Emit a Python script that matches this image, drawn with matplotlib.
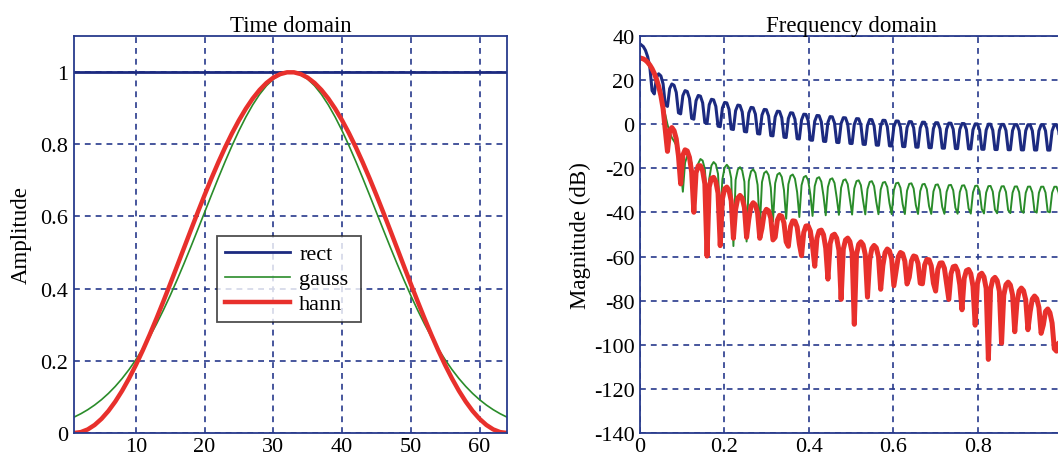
import numpy as np
import matplotlib
matplotlib.use("Agg")
import matplotlib.pyplot as plt

# ---- data: window samples (first half; windows are symmetric) ----
sample_index = list(range(1, 65))
rect_half = [1.0] * 32
gauss_half = [0.0439369, 0.0534111, 0.0645205, 0.0774512, 0.0923897, 0.1095174,
              0.1290052, 0.1510065, 0.1756502, 0.2030328, 0.2332105, 0.2661917,
              0.3019293, 0.3403146, 0.3811714, 0.4242526, 0.4692380, 0.5157346,
              0.5632794, 0.6113443, 0.6593444, 0.7066483, 0.7525905, 0.7964868,
              0.8376506, 0.8754104, 0.9091278, 0.9382156, 0.9621545, 0.9805087,
              0.9929389, 0.9992130]
hann_half = [0.0000000, 0.0024846, 0.0099138, 0.0222136, 0.0392619, 0.0608892,
             0.0868806, 0.1169778, 0.1508816, 0.1882551, 0.2287269, 0.2718947,
             0.3173295, 0.3645798, 0.4131759, 0.4626350, 0.5124653, 0.5621719,
             0.6112605, 0.6592433, 0.7056436, 0.7500000, 0.7918718, 0.8308429,
             0.8665259, 0.8985663, 0.9266454, 0.9504844, 0.9698463, 0.9845386,
             0.9944154, 0.9993785]
labels = ["rect", "gauss", "hann"]
time_yticks = [0, 0.2, 0.4, 0.6, 0.8, 1]
time_ytick_labels = ["0", "0.2", "0.4", "0.6", "0.8", "1"]
time_xticks = [10, 20, 30, 40, 50, 60]
freq_xticks = [0, 0.2, 0.4, 0.6, 0.8]
freq_xtick_labels = ["0", "0.2", "0.4", "0.6", "0.8"]
freq_yticks = [40, 20, 0, -20, -40, -60, -80, -100, -120, -140]

rect = np.array(rect_half + rect_half[::-1])
gauss = np.array(gauss_half + gauss_half[::-1])
hann = np.array(hann_half + hann_half[::-1])
windows = [rect, gauss, hann]

# spectrum (DTFT magnitude in dB) on a grid of normalized frequency
n_bins = 192
freq = (np.arange(n_bins) + 0.5) / n_bins
nn = np.arange(64)
E = np.exp(-1j * np.pi * np.outer(freq, nn))
spectra = [20 * np.log10(np.abs(E @ w) + 1e-12) for w in windows]

# ---- style ----
plt.rcParams['font.family'] = ['Liberation Serif', 'DejaVu Serif']
plt.rcParams['axes.unicode_minus'] = False
navy = '#283a8c'
colors = ['#1c2a80', '#2a8c2a', '#e8302c']
lw_time = [2.0, 1.2, 3.2]
lw_freq = [2.2, 1.4, 3.6]

fig = plt.figure(figsize=(10.58, 4.6), dpi=100)
W, H = 1058, 460
ax1 = fig.add_axes([74 / W, 1 - 434 / H, (507 - 74) / W, (434 - 37) / H])
ax2 = fig.add_axes([640 / W, 1 - 434 / H, (1062 - 640) / W, (434 - 37) / H])

for ax in (ax1, ax2):
    for s in ax.spines.values():
        s.set_color(navy)
        s.set_linewidth(1.3)
    ax.grid(True, color=navy, linestyle=(0, (3.5, 3)), linewidth=1.2)
    ax.set_axisbelow(True)
    ax.tick_params(direction='in', length=0, labelsize=16, colors='black', pad=4)
    ax.tick_params(axis='x', pad=3)

for w, c, lw, lab in zip(windows, colors, lw_time, labels):
    ax1.plot(sample_index, w, color=c, linewidth=lw, label=lab)
ax1.set_xlim(1, 64)
ax1.set_ylim(0, 1.1)
ax1.set_xticks(time_xticks)
ax1.set_yticks(time_yticks)
ax1.set_yticklabels(time_ytick_labels)
ax1.set_title("Time domain", fontsize=16.5, pad=3)
ax1.set_ylabel("Amplitude", fontsize=16.5, labelpad=6)
leg = ax1.legend(loc='lower left', bbox_to_anchor=(0.330, 0.279, 0.333, 0.22),
                 mode='expand', fontsize=16, frameon=True, fancybox=False,
                 handlelength=2.95, borderpad=0.35, labelspacing=0.2,
                 handletextpad=0.4, borderaxespad=0.0)
leg.get_frame().set_edgecolor('#222222')
leg.get_frame().set_linewidth(1.3)

for s_db, c, lw in zip(spectra, colors, lw_freq):
    ax2.plot(freq, s_db, color=c, linewidth=lw)
ax2.set_xlim(0, 1)
ax2.set_ylim(-140, 40)
ax2.set_xticks(freq_xticks)
ax2.set_xticklabels(freq_xtick_labels)
ax2.set_yticks(freq_yticks)
ax2.set_title("Frequency domain", fontsize=16.5, pad=3)
ax2.set_ylabel("Magnitude (dB)", fontsize=16.5, labelpad=2)

fig.savefig("out.png", dpi=100)
